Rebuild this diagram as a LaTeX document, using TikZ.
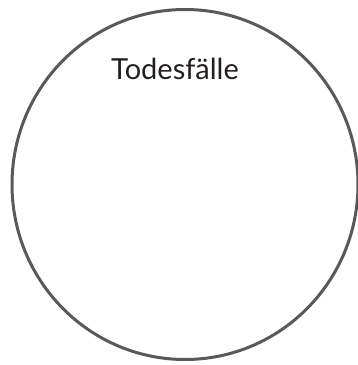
\documentclass[tikz,border=0pt]{standalone}
\usepackage{fontspec}
\setmainfont{Lato}
\definecolor{ringgray}{HTML}{595959}
\definecolor{txt}{HTML}{231F20}
\begin{document}
\begin{tikzpicture}[x=1pt,y=-1pt,
  ring/.style={draw=ringgray,line width=3pt},
  label/.style={font=\fontsize{29}{33}\selectfont,text=txt,inner sep=0pt,anchor=base}]
\useasboundingbox (0,0) rectangle (358,365);
\draw[ring] (185,184.5) ellipse [x radius=173, y radius=175];
\node[label] (t) at (175,79) {Todesfälle};
\end{tikzpicture}
\end{document}
